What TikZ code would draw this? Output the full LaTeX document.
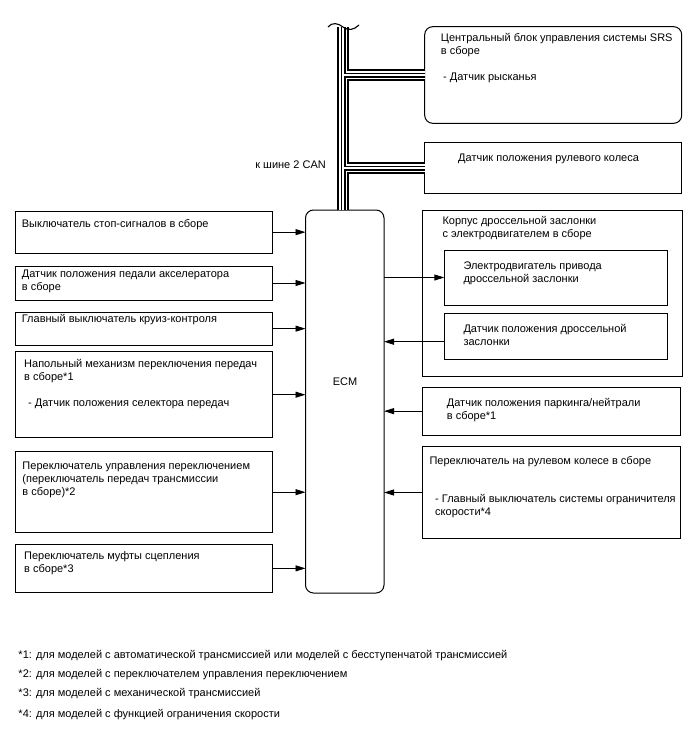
\documentclass[tikz,border=0pt]{standalone}
\usepackage{fontspec}
\setmainfont{Liberation Sans}
\usetikzlibrary{arrows.meta}
\tikzset{
  box/.style={draw=black, line width=1bp, anchor=north west, inner sep=0pt, outer sep=0pt},
  rbox/.style={box, rounded corners=8bp},
  txt/.style={anchor=north west, inner sep=0pt, align=left, font=\fontsize{11bp}{13bp}\selectfont},
  arr/.style={line width=0.9bp, -{Triangle[length=10bp,width=6bp]}},
  busA/.style={line width=12.5bp, black},
  busB/.style={line width=8.5bp, white},
  busC/.style={line width=5bp, black},
  busD/.style={line width=2.2bp, white},
}
\begin{document}
\begin{tikzpicture}[x=1bp,y=-1bp]
\useasboundingbox[fill=white] (0,0) rectangle (688,755);

% ---------- left boxes ----------
\node[box, minimum width=257bp, minimum height=42.3bp] (b1) at (15,211) {};
\node[box, minimum width=257bp, minimum height=34bp] (b2) at (15,266) {};
\node[box, minimum width=257bp, minimum height=32.7bp] (b3) at (15,312.3) {};
\node[box, minimum width=257bp, minimum height=86bp] (b4) at (15,351.7) {};
\node[box, minimum width=257bp, minimum height=81bp] (b5) at (15,451.7) {};
\node[box, minimum width=257bp, minimum height=48.7bp] (b6) at (15,544) {};

% ---------- ECM ----------
\node[rbox, minimum width=78.5bp, minimum height=383bp] (ecm) at (305.5,210) {};
\node[font=\fontsize{11bp}{13bp}\selectfont, inner sep=0pt] (ecmlbl) at (345,382) {ECM};

% ---------- right boxes ----------
\node[rbox, minimum width=257bp, minimum height=96.6bp] (srs) at (424.7,26.7) {};
\node[box, minimum width=257bp, minimum height=50.6bp] (steer) at (424.7,142.7) {};
\node[box, minimum width=260bp, minimum height=166.7bp] (thr) at (422.7,210) {};
\node[box, minimum width=223bp, minimum height=55bp] (in1) at (444.3,250) {};
\node[box, minimum width=223bp, minimum height=46bp] (in2) at (444.3,313.3) {};
\node[box, minimum width=258bp, minimum height=47.7bp] (park) at (422.7,387.3) {};
\node[box, minimum width=258bp, minimum height=91.6bp] (rul) at (422.7,446.7) {};

% ---------- texts ----------
\node[txt] (t1) at (21.7,218) {\strut Выключатель стоп-сигналов в сборе};
\node[txt] (t2) at (21.7,268) {\strut Датчик положения педали акселератора\\в сборе};
\node[txt] (t3) at (21.7,313) {\strut Главный выключатель круиз-контроля};
\node[txt] (t4) at (24,358) {\strut Напольный механизм переключения передач\\в сборе*1\\ \strut\\\hspace{4bp}- Датчик положения селектора передач};
\node[txt] (t5) at (22.3,459.7) {\strut Переключатель управления переключением\\(переключатель передач трансмиссии\\в сборе)*2};
\node[txt] (t6) at (24,550.4) {\strut Переключатель муфты сцепления\\в сборе*3};

\node[txt] (tsrs) at (440.7,32.4) {\strut Центральный блок управления системы SRS\\в сборе\\ \strut\\\hspace{2.3bp}- Датчик рысканья};
\node[txt] (tsteer) at (458,152.4) {\strut Датчик положения рулевого колеса};
\node[txt] (tthr) at (442.3,215.4) {\strut Корпус дроссельной заслонки\\с электродвигателем в сборе};
\node[txt] (tin1) at (463.3,259.7) {\strut Электродвигатель привода\\дроссельной заслонки};
\node[txt] (tin2) at (463.3,323) {\strut Датчик положения дроссельной\\заслонки};
\node[txt] (tpark) at (446.7,397.4) {\strut Датчик положения паркинга/нейтрали\\в сборе*1};
\node[txt] (trul) at (429.3,455.4) {\strut Переключатель на рулевом колесе в сборе};
\node[txt] (trul2) at (435,493) {\strut - Главный выключатель системы ограничителя\\скорости*4};

\node[txt, anchor=north east] (tcan) at (326,158.7) {\strut к шине 2 CAN};

\node[txt] (f1) at (18.3,648.7) {\strut *1: для моделей с автоматической трансмиссией или моделей с бесступенчатой трансмиссией};
\node[txt] (f2) at (18.3,668) {\strut *2: для моделей с переключателем управления переключением};
\node[txt] (f3) at (18.3,687.4) {\strut *3: для моделей с механической трансмиссией};
\node[txt] (f4) at (18.3,708) {\strut *4: для моделей с функцией ограничения скорости};

% ---------- arrows ----------
\foreach \b in {b1,b2,b3,b4,b5,b6}
  \draw[arr] (\b.east) -- (\b.east -| ecm.west);
\draw[arr] (in1.west -| ecm.east) -- (in1.west);
\draw[arr] ([yshift=-5.4bp]in2.west) -- ([yshift=-5.4bp]in2.west -| ecm.east);
\draw[arr] (park.west) -- (park.west -| ecm.east);
\draw[arr] (rul.west) -- (rul.west -| ecm.east);

% ---------- CAN bus ----------
\coordinate (bustop) at (343,27);
\coordinate (busbot) at (bustop |- ecm.north);
\coordinate (j1) at (bustop |- srs.west);
\coordinate (j2) at (bustop |- steer.west);
\foreach \s in {busA,busB,busC,busD}
  \draw[\s] (bustop) -- (busbot) (j1) -- (srs.west) (j2) -- (steer.west);
\draw[line width=1.1bp] (328,27) .. controls (332,22) and (338,23) .. (343,27) .. controls (348,31) and (354,30) .. (359,25);
\end{tikzpicture}
\end{document}
